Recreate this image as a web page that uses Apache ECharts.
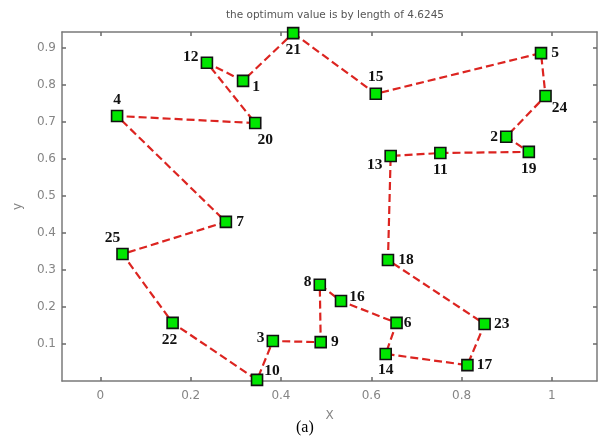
<!DOCTYPE html>
<html>
<head>
<meta charset="utf-8">
<script src="https://cdn.jsdelivr.net/npm/echarts@6/dist/echarts.min.js"></script>
<style>
  html, body { margin: 0; padding: 0; background: #fff; }
  #chart { width: 604px; height: 438px; }
</style>
</head>
<body>
<div id="chart"></div>
<script>
// city coordinates, indexed by city id - 1
const cityIds = [1, 2, 3, 4, 5, 6, 7, 8, 9, 10, 11, 12, 13, 14, 15, 16, 17, 18, 19, 20, 21, 22, 23, 24, 25];
const cityX = [0.316, 0.899, 0.382, 0.037, 0.976, 0.656, 0.278, 0.486, 0.488, 0.347, 0.753, 0.236, 0.643,
  0.632, 0.610, 0.533, 0.813, 0.637, 0.949, 0.343, 0.427, 0.160, 0.851, 0.986, 0.049];
const cityY = [0.811, 0.660, 0.108, 0.716, 0.886, 0.157, 0.430, 0.260, 0.105, 0.003, 0.616, 0.860, 0.608,
  0.073, 0.776, 0.216, 0.043, 0.327, 0.619, 0.697, 0.940, 0.157, 0.154, 0.770, 0.343];
// best tour found
const route = [21, 15, 5, 24, 2, 19, 11, 13, 18, 23, 17, 14, 6, 16, 8, 9, 3, 10, 22, 25, 7, 4, 20, 12, 1];
const xTicks = [0, 0.2, 0.4, 0.6, 0.8, 1];
const yTicks = [0.1, 0.2, 0.3, 0.4, 0.5, 0.6, 0.7, 0.8, 0.9];
const titleText = "the optimum value is by length of 4.6245";

// where each city's number sits next to its marker
const labelPlace = {
  1: ["right", [-1, 6]], 2: ["left", [2, 0]], 3: ["left", [2, -3]], 4: ["top", [0, 2]],
  5: ["right", [0, 0]], 6: ["right", [-3, 0]], 7: ["right", [0, 0]], 8: ["left", [2, -3]],
  9: ["right", [0, 0]], 10: ["right", [-3, -9]], 11: ["bottom", [0, -1]], 12: ["left", [2, -6]],
  13: ["left", [2, 9]], 14: ["bottom", [0, -2]], 15: ["top", [0, 1]], 16: ["right", [-2, -4]],
  17: ["right", [-1, 0]], 18: ["right", [0, 0]], 19: ["bottom", [0, -1]], 20: ["bottom", [10, -1]],
  21: ["bottom", [0, -1]], 22: ["bottom", [-3, -1]], 23: ["right", [-1, 0]], 24: ["right", [-4, 12]],
  25: ["top", [-10, 2]]
};

const tourPoints = route.concat([route[0]]).map((id) => [cityX[id - 1], cityY[id - 1]]);
const cityPoints = cityIds.map((id, i) => ({
  value: [cityX[i], cityY[i]],
  name: String(id),
  label: { position: labelPlace[id][0], offset: labelPlace[id][1] },
}));

const frame = { show: true, onZero: false, lineStyle: { color: "#7a7a7a", width: 1.5 } };
const tick = (vals) => ({ show: true, inside: true, length: 4, customValues: vals, lineStyle: { color: "#6a6a6a", width: 1.5 } });
const tickFmt = (v) => (Math.abs(v) < 1e-9 ? "0" : String(Math.round(v * 10) / 10));
const labelFont = { fontFamily: "DejaVu Sans", fontSize: 12, color: "#858585" };

const chart = echarts.init(document.getElementById("chart"), null, { renderer: "canvas" });
chart.setOption({
  animation: false,
  backgroundColor: "#fff",
  title: {
    text: titleText,
    left: 330,
    textAlign: "center",
    top: 5,
    textStyle: { fontFamily: "DejaVu Sans", fontSize: 10.5, fontWeight: "normal", color: "#555" },
  },
  grid: { left: 62, right: 7, top: 32, bottom: 57 },
  xAxis: [
    {
      type: "value", min: -0.085, max: 1.1, splitLine: { show: false },
      name: "X", nameLocation: "middle", nameGap: 29, nameTextStyle: labelFont,
      axisLine: frame, axisTick: tick(xTicks),
      axisLabel: Object.assign({ customValues: xTicks, formatter: tickFmt, margin: 9 }, labelFont),
    },
    {
      type: "value", position: "top", min: -0.085, max: 1.1, splitLine: { show: false },
      axisLine: frame, axisTick: tick(xTicks), axisLabel: { show: false },
    },
  ],
  yAxis: [
    {
      type: "value", min: 0, max: 0.943, splitLine: { show: false },
      name: "y", nameLocation: "middle", nameGap: 38, nameRotate: 90, nameTextStyle: labelFont,
      axisLine: frame, axisTick: tick(yTicks),
      axisLabel: Object.assign({ customValues: yTicks, formatter: tickFmt, margin: 6 }, labelFont),
    },
    {
      type: "value", position: "right", min: 0, max: 0.943, splitLine: { show: false },
      axisLine: frame, axisTick: tick(yTicks), axisLabel: { show: false },
    },
  ],
  series: [
    {
      type: "line",
      data: tourPoints,
      showSymbol: false,
      lineStyle: { color: "#dc2420", width: 2.2, type: [8, 4] },
      z: 2,
    },
    {
      type: "scatter",
      data: cityPoints,
      symbol: "rect",
      symbolSize: 11,
      itemStyle: { color: "#00e600", borderColor: "#111", borderWidth: 1.6, opacity: 1 },
      label: {
        show: true,
        formatter: (p) => p.name,
        fontFamily: "Liberation Serif",
        fontWeight: "bold",
        fontSize: 15.5,
        color: "#111",
        distance: 4,
      },
      z: 3,
    },
  ],
  graphic: [
    {
      type: "text", left: 296, top: 420,
      style: { text: "(a)", fontFamily: "Liberation Serif", fontSize: 16, fill: "#000" },
    },
  ],
});
</script>
</body>
</html>
